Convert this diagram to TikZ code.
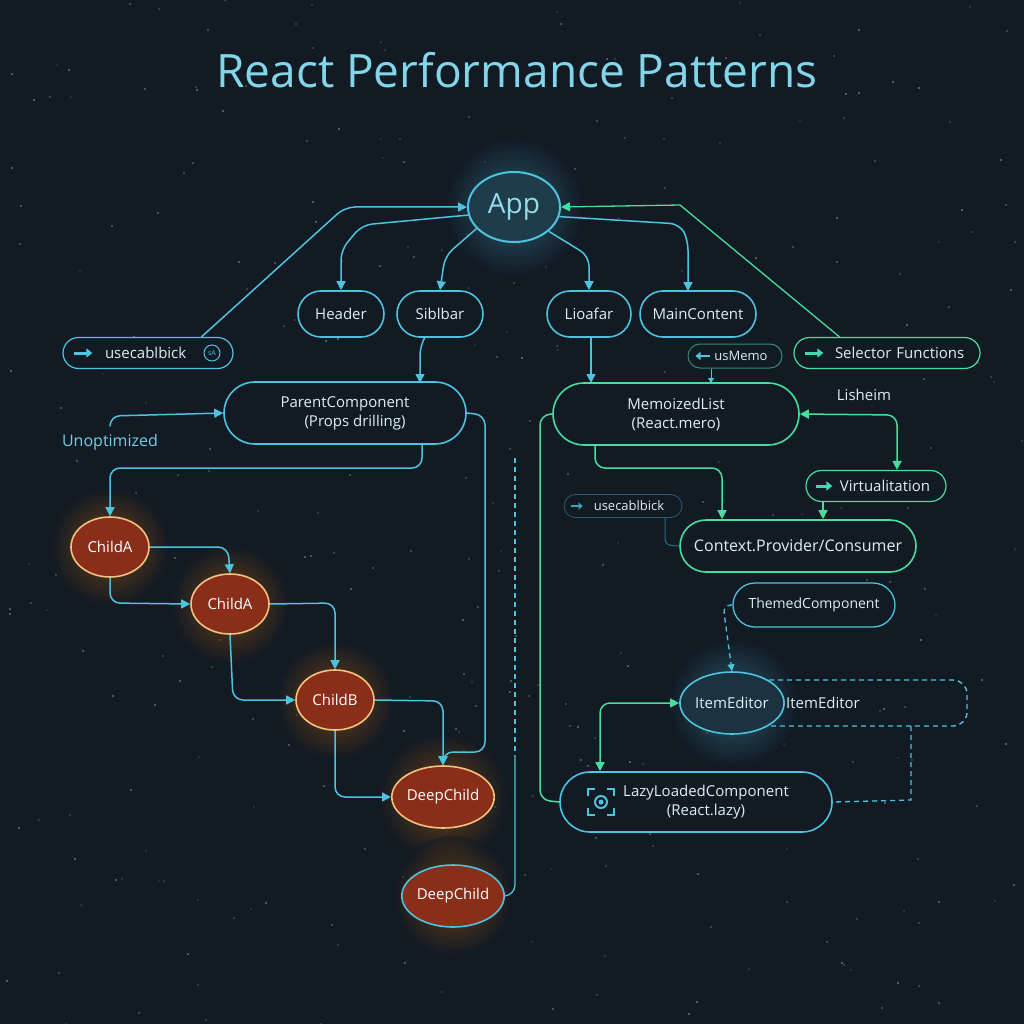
\documentclass[tikz,border=0pt]{standalone}
\usepackage{fontspec}
\setmainfont{Open Sans}
\usetikzlibrary{shapes.misc,shapes.geometric,arrows.meta}
\definecolor{bg}{HTML}{121A24}
\definecolor{cy}{HTML}{4EC3E0}
\definecolor{gr}{HTML}{45DE9C}
\definecolor{tx}{HTML}{DDEFF5}
\definecolor{og}{HTML}{8A2E1A}
\definecolor{ob}{HTML}{F2C27E}
\tikzset{
  pill/.style={rounded rectangle, draw=cy, line width=1.6pt, fill=bg, text=tx, inner sep=0pt, align=center, font=\fontsize{15}{19}\selectfont},
  gpill/.style={pill, draw=gr},
  child/.style={ellipse, draw=ob, line width=1.6pt, fill=og, text=white, inner sep=0pt, font=\fontsize{15}{18}\selectfont},
  cl/.style={draw=cy, line width=1.5pt, rounded corners=10pt},
  gl/.style={draw=gr, line width=1.5pt, rounded corners=10pt},
  ar/.style={-{Triangle[length=9pt,width=9pt]}},
  ar2/.style={{Triangle[length=9pt,width=9pt]}-{Triangle[length=9pt,width=9pt]}},
  ico/.style={line width=3pt, -{Triangle[length=6pt,width=9pt]}},
  dsh/.style={dashed, dash pattern=on 5pt off 4pt},
}
\begin{document}
\begin{tikzpicture}[x=1pt,y=-1pt]
\fill[bg] (0,0) rectangle (1024,1024);
\useasboundingbox (0,0) rectangle (1024,1024);
% stars
\pgfmathsetseed{7}
\foreach \i in {1,...,320}{
  \pgfmathsetmacro\sx{random(0,1024)}
  \pgfmathsetmacro\sy{random(0,1024)}
  \pgfmathsetmacro\so{0.15+0.45*rnd}
  \fill[white, opacity=\so] (\sx,\sy) circle (0.9pt);
}
% glows
\foreach \p/\r/\c in {{(514,207)}/70/cy,{(110,547)}/60/orange,{(230,604)}/60/orange,{(335,700)}/60/orange,{(443,797)}/65/orange,{(453,896)}/60/orange,{(733,703)}/65/cy}{
  \shade[inner color=\c!70!bg, outer color=bg, opacity=0.55] \p circle (\r pt);
}
\node[text=cy!70!white, font=\fontsize{46}{52}\selectfont] (title) at (517,70) {React Performance Patterns};

\node[ellipse, draw=cy, line width=2pt, fill=bg!80!cy, text=cy!60!white, minimum width=92pt, minimum height=70pt, inner sep=0pt, font=\fontsize{28}{32}\selectfont] (app) at (514,207) {App};
\node[pill, minimum width=86pt, minimum height=46pt] (hdr) at (341,314) {Header};
\node[pill, minimum width=86pt, minimum height=46pt] (sib) at (440,314) {Siblbar};
\node[pill, minimum width=84pt, minimum height=46pt] (lio) at (589,314) {Lioafar};
\node[pill, minimum width=116pt, minimum height=46pt] (main) at (698,314) {MainContent};

\node[pill, line width=1.2pt, minimum width=170pt, minimum height=31pt, text width=150pt, align=left] (ucb) at (148,353) {\hspace*{32pt}usecablbick};
\draw[cy, ico] (ucb.west)++(12,0) -- ++(18,0);
\node[circle, draw=cy, line width=1pt, inner sep=0.5pt, text=cy, font=\fontsize{7}{8}\selectfont, minimum size=16pt] (sa) at (212,353) {sA};

\node[gpill, line width=1.2pt, minimum width=186pt, minimum height=31pt, text width=160pt, align=left] (sel) at (887,353) {\hspace*{28pt}Selector Functions};
\draw[gr!70!cy, ico] (sel.west)++(12,0) -- ++(18,0);

\node[gpill, line width=1pt, draw=gr!60!bg, minimum width=94pt, minimum height=24pt, font=\fontsize{13}{16}\selectfont] (usm) at (735,356) {\hspace*{12pt}usMemo};
\draw[cy, line width=2.5pt, {Triangle[length=5pt,width=8pt]}-] (usm.west)++(8,0) -- ++(14,0);

\node[pill, minimum width=242pt, minimum height=62pt] (par) at (345,413) {ParentComponent\\\hspace*{20pt}(Props drilling)};
\node[text=cy!80!white, font=\fontsize{16}{19}\selectfont] (unopt) at (110,442) {Unoptimized};

\node[gpill, minimum width=246pt, minimum height=62pt] (memo) at (676,414) {MemoizedList\\(React.mero)};
\node[text=tx, font=\fontsize{15}{18}\selectfont] (lish) at (864,395) {Lisheim};
\node[gpill, line width=1.2pt, minimum width=140pt, minimum height=31pt] (virt) at (876,486) {\hspace*{18pt}Virtualitation};
\draw[gr!70!cy, ico] (virt.west)++(11,0) -- ++(16,0);

\node[pill, line width=0.8pt, draw=cy!40!bg, minimum width=118pt, minimum height=23pt, font=\fontsize{13}{16}\selectfont] (ucb2) at (623,506) {\hspace*{12pt}usecablbick};
\draw[cy!80!bg, line width=2pt, -{Triangle[length=4pt,width=7pt]}] (ucb2.west)++(7,0) -- ++(12,0);

\node[gpill, minimum width=236pt, minimum height=52pt, font=\fontsize{16}{19}\selectfont] (ctx) at (798,546) {Context.Provider/Consumer};
\node[pill, line width=1.3pt, minimum width=162pt, minimum height=44pt, font=\fontsize{14}{17}\selectfont] (thm) at (814,605) {ThemedComponent};

\draw[cy, line width=1.4pt, dsh, rounded corners=14pt] (733,680) -- (967,680) -- (967,726) -- (733,726);
\node[ellipse, draw=cy, line width=1.6pt, fill=bg!85!cy, text=tx, minimum width=100pt, minimum height=62pt, inner sep=0pt, font=\fontsize{15}{18}\selectfont] (ie) at (732,703) {ItemEditor};
\node[text=tx, font=\fontsize{15}{18}\selectfont] (ie2) at (823,703) {ItemEditor};

\node[pill, minimum width=272pt, minimum height=60pt] (lazy) at (696,802) {\hspace*{20pt}LazyLoadedComponent\\\hspace*{20pt}(React.lazy)};
\begin{scope}[shift={(601,802)}, cy, line width=2pt]
  \draw (-13,-6) -- (-13,-13) -- (-6,-13);
  \draw (6,-13) -- (13,-13) -- (13,-6);
  \draw (13,6) -- (13,13) -- (6,13);
  \draw (-6,13) -- (-13,13) -- (-13,6);
  \draw circle (6pt); \fill circle (2.5pt);
\end{scope}

\node[child, minimum width=78pt, minimum height=60pt] (ca1) at (110,547) {ChildA};
\node[child, minimum width=78pt, minimum height=60pt] (ca2) at (230,604) {ChildA};
\node[child, minimum width=78pt, minimum height=60pt] (cb) at (335,700) {ChildB};
\node[child, minimum width=90pt, minimum height=62pt] (dc1) at (443,797) {DeepChild};
\node[child, draw=cy, minimum width=90pt, minimum height=62pt] (dc2) at (453,896) {DeepChild};

% top connectors
\draw[cl, ar] (ucb.north east) ++(-16,0) -- (345,207) -- (app.west);
\draw[cl, ar] (app.-170) -- (362,225) -- (341,250) -- (hdr.north);
\draw[cl, ar] (app.-150) -- (445,256) -- (sib.north);
\draw[cl, ar] (app.-35) -- (589,256) -- (lio.north);
\draw[cl, ar] (app.-12) -- (680,224) -- (688,240) -- (688,291);
\draw[gl, rounded corners=0pt, line width=1.3pt, ar] (sel.north west) ++(30,0) -- (680,205) -- (app.east);
\draw[cl, ar] (425,337) -- (420,345) -- (420,383);
\draw[cl, ar] (591,337) -- (591,383);
\draw[cy, line width=1pt, -{Triangle[length=5pt,width=6pt]}] (usm.south) ++(-24,0) -- (711,383);
\draw[cl, ar] (unopt.north) ++(0,-4) -- (110,416) -- (par.west);
% left chain
\draw[cl, ar] (422,444) -- (422,468) -- (110,468) -- (ca1.north);
\draw[cl, ar] (par.east) -- (485,415) -- (485,752) -- (443,752) -- (dc1.north);
\draw[cl, ar] (ca1.east) -- (228,547) -- (ca2.north);
\draw[cl, ar] (ca1.south) -- (110,603) -- (ca2.west);
\draw[cl, ar] (ca2.east) -- (335,603) -- (cb.north);
\draw[cl, ar] (ca2.south) -- (233,700) -- (cb.west);
\draw[cl, ar] (cb.east) -- (443,701) -- (dc1.north);
\draw[cl, ar] (cb.south) -- (335,797) -- (dc1.west);
\draw[cy, line width=1.2pt, dsh] (515,458) -- (515,755);
\draw[cl, line width=1.3pt] (515,755) -- (515,895) -- (dc2.east);
% right
\draw[gl, ar] (595,446) -- (595,468) -- (722,468) -- (ctx.north -| 722,0);
\draw[gl, ar2] (memo.east) -- (897,415) -- (virt.north -| 897,0);
\draw[gl, ar] (virt.south -| 823,0) -- (ctx.north -| 823,0);
\draw[cy!50!bg, line width=1pt, rounded corners=6pt] (ucb2.south) ++(42,0) -- (665,545) -- (ctx.west);
\draw[gl] (memo.west) -- (540,415) -- (540,800) -- (lazy.west);
\draw[cy, line width=1.3pt, dsh, rounded corners=8pt, -{Triangle[length=7pt,width=7pt]}] (thm.west) -- (723,605) -- (ie.north);
\draw[gl, ar2] (lazy.north -| 600,0) -- (600,703) -- (ie.west);
\draw[cy, line width=1.3pt, dsh] (911,726) -- (911,800) -- (lazy.east);
\end{tikzpicture}
\end{document}
